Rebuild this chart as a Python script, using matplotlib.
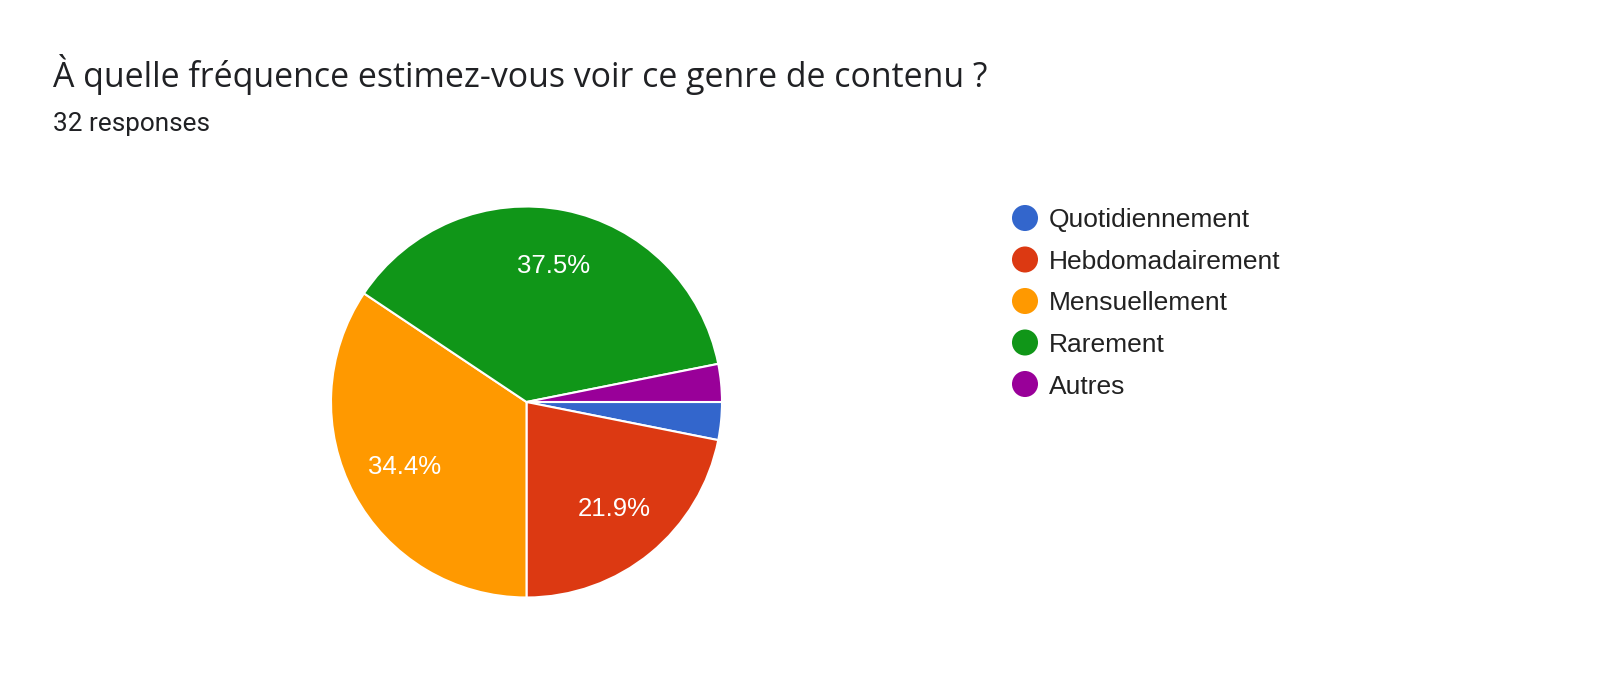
import matplotlib
matplotlib.use("Agg")
import matplotlib.pyplot as plt

# chart data
categories = ["Quotidiennement", "Hebdomadairement", "Mensuellement", "Rarement", "Autres"]
counts = [1, 7, 11, 12, 1]
colors = ["#3366CC", "#DC3912", "#FF9900", "#109618", "#990099"]
title = "À quelle fréquence estimez-vous voir ce genre de contenu ?"
subtitle = "32 responses"

W, H = 1600, 673
fig = plt.figure(figsize=(W / 100, H / 100), dpi=100)
fig.patch.set_facecolor("white")

# pie: center (526.5, 402) px, radius 195.5 px
cx, cy, r = 526.5, 402, 195.5
ax = fig.add_axes([(cx - r) / W, (H - cy - r) / H, 2 * r / W, 2 * r / H])


def pct_label(p):
    # small slices get no label
    return f"{p:.1f}%" if p > 5 else ""


wedges, texts, autotexts = ax.pie(
    counts, colors=colors, startangle=0, counterclock=False,
    autopct=pct_label, pctdistance=0.71,
    wedgeprops=dict(edgecolor="white", linewidth=1.5),
    textprops=dict(color="white", fontsize=18.5, family="Liberation Sans"),
)
ax.set_xlim(-1, 1)
ax.set_ylim(-1, 1)
ax.set_aspect("equal")

# titles
fig.text(53 / W, 1 - 87 / H, title, fontsize=24.4, family="Open Sans", color="#202124")
fig.text(53 / W, 1 - 131 / H, subtitle, fontsize=18.8, family="Roboto", color="#202124")

# legend, drawn in a pixel-space overlay
lax = fig.add_axes([0, 0, 1, 1])
lax.set_xlim(0, W)
lax.set_ylim(H, 0)
lax.axis("off")
for i, (name, col) in enumerate(zip(categories, colors)):
    y = 218 + i * 41.5
    lax.scatter([1025], [y], s=26 ** 2 * 0.52, color=col, edgecolors="none")
    lax.text(1049, y, name, fontsize=19, family="Liberation Sans",
             color="#222222", va="center_baseline")

fig.savefig("out.png", dpi=100, facecolor="white")
